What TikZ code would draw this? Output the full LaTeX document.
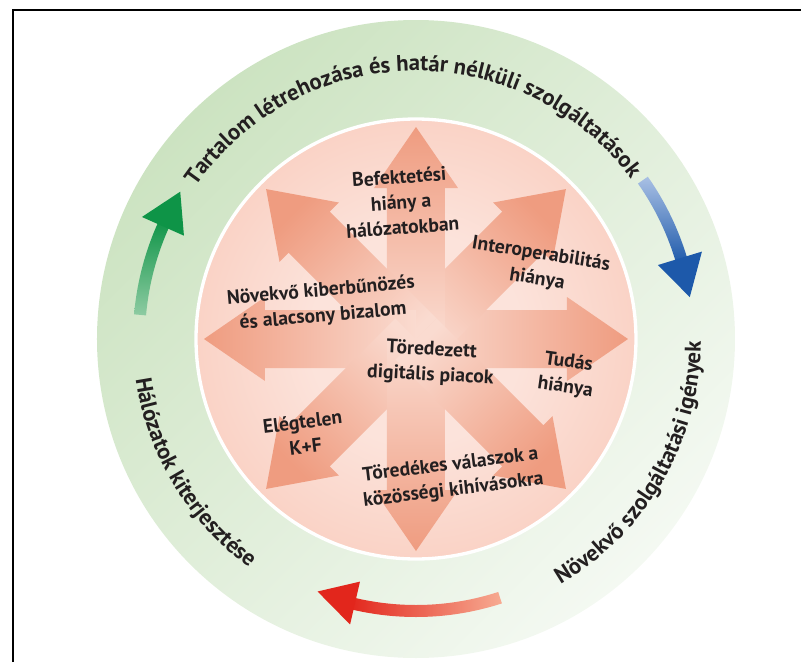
\documentclass[tikz,border=0pt]{standalone}
\usepackage{fontspec}
\setmainfont{PT Sans}
\usetikzlibrary{decorations.text}

\definecolor{ringgreen}{HTML}{CCE3C1}
\definecolor{ringpale}{HTML}{F4F9F2}
\definecolor{discedge}{HTML}{F5B39D}
\definecolor{disccore}{HTML}{FCE3DB}
\definecolor{spoke}{HTML}{EF9C80}
\definecolor{spokefade}{HTML}{FADBD0}
\definecolor{cyclegreen}{HTML}{0E9447}
\definecolor{cyclegreenlight}{HTML}{8ECBA2}
\definecolor{cycleblue}{HTML}{1D59AA}
\definecolor{cyclebluelight}{HTML}{A9C0E4}
\definecolor{cyclered}{HTML}{E2261C}
\definecolor{cycleredlight}{HTML}{F7AB92}
\definecolor{ink}{HTML}{231F20}

\pgfdeclareradialshading{discglow}{\pgfpoint{0bp}{0bp}}{color(0bp)=(disccore); color(12bp)=(disccore); color(50bp)=(discedge)}

\newcommand{\issuefont}{\fontsize{14.7}{19}\selectfont\bfseries}
\newcommand{\ringfont}{\fontsize{17}{19}\selectfont\bfseries}

\begin{document}
\begin{tikzpicture}[
    x=0.75pt, y=0.75pt,
    issue/.style={align=center, font=\issuefont, text=ink, inner sep=0pt},
    spokearrow/.style={top color=spoke, bottom color=spokefade},
    ringlabel/.style={decorate, decoration={text along path, text align=center,
        text color=ink, text={|\ringfont|#1}}}
]
\useasboundingbox (-416,-323) rectangle (385,339);

% Frame
\draw[line width=1.5pt] (-403,-323) -- (-403,329) -- (385,329);

% Rings
\coordinate (c) at (0,0);
\shade[top color=ringgreen, bottom color=ringpale, shading angle=45] (c) circle[radius=319];
\shade[shading=discglow, draw=white, line width=2.5pt] (c) circle[radius=220];

% Spokes
\foreach \ang in {0,45,...,315}{
  \pgfmathsetmacro\shadeang{\ang-90}
  \begin{scope}[rotate=\ang]
    \shade[spokearrow, shading angle=\shadeang] (0,-29) -- (151,-29) -- (151,-42)
      -- (212,0) -- (151,42) -- (151,29) -- (0,29) -- cycle;
  \end{scope}
}

% Cycle arrows
\shade[top color=cyclegreen, bottom color=cyclegreenlight]
  (175:271) arc[start angle=175, end angle=155, radius=271]
  -- (155:283) arc[start angle=155, end angle=175, radius=283] -- cycle;
\fill[cyclegreen] (156:254) -- (148:278) -- (156:300) -- cycle;

\shade[top color=cyclebluelight, bottom color=cycleblue]
  (35:271) arc[start angle=35, end angle=16, radius=271]
  -- (16:283) arc[start angle=16, end angle=35, radius=283] -- cycle;
\fill[cycleblue] (17:253) -- (8.7:277) -- (17:299) -- cycle;

\shade[left color=cyclered, right color=cycleredlight]
  (288:266) arc[start angle=288, end angle=256, radius=266]
  -- (256:278) arc[start angle=256, end angle=288, radius=278] -- cycle;
\fill[cyclered] (257:249) -- (248.7:271) -- (257:293) -- cycle;

% Ring texts
\path[ringlabel={Tartalom létrehozása és határ nélküli szolgáltatások}]
  (166:268) arc[start angle=166, end angle=16, radius=268];
\path[ringlabel={Hálózatok kiterjesztése}]
  (166:283) arc[start angle=166, end angle=256, radius=283];
\path[ringlabel={Növekvő szolgáltatási igények}]
  (-80:285) arc[start angle=-80, end angle=20, radius=285];

% Issues
\node[issue, rotate=4] (invest) at (-15,137) {Befektetési\\hiány a\\hálózatokban};
\node[issue, rotate=-9] (interop) at (123,72) {Interoperabilitás\\hiánya};
\node[issue, rotate=5] (cyber) at (-94,35) {Növekvő kiberbűnözés\\és alacsony bizalom};
\node[issue, rotate=-3] (market) at (15,-24) {Töredezett\\digitális piacok};
\node[issue, rotate=-8] (skills) at (151,-36) {Tudás\\hiánya};
\node[issue, rotate=7] (rnd) at (-112,-95) {Elégtelen\\K+F};
\node[issue, rotate=7] (answers) at (36,-139) {Töredékes válaszok a\\közösségi kihívásokra};

\end{tikzpicture}
\end{document}
